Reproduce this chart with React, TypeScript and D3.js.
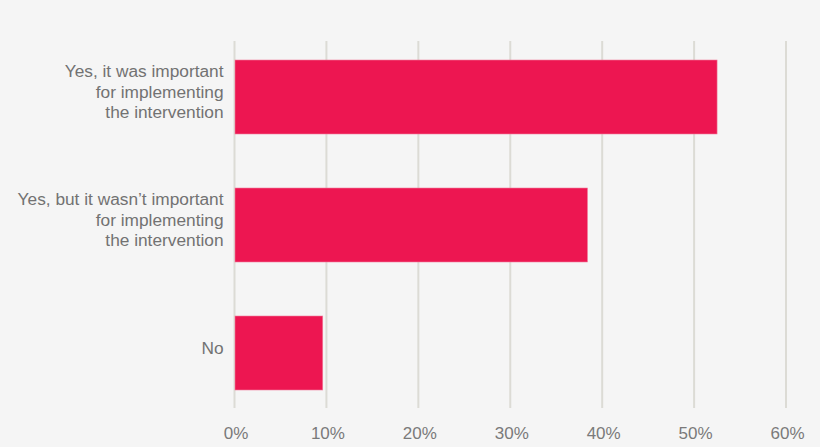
import { useEffect, useRef } from "react";
import * as d3 from "d3";

const categories = [
  ["Yes, it was important", "for implementing", "the intervention"],
  ["Yes, but it wasn\u2019t important", "for implementing", "the intervention"],
  ["No"],
];
const values = [52.5, 38.4, 9.6];
const ticks = [0, 10, 20, 30, 40, 50, 60];

const width = 820;
const height = 447;
const font = "'Liberation Sans', Arial, Helvetica, sans-serif";

export default function App() {
  const svgRef = useRef<SVGSVGElement | null>(null);

  useEffect(() => {
    document.body.style.margin = "0";
    const svg = d3.select(svgRef.current);
    svg.selectAll("*").remove();

    const x = d3.scaleLinear().domain([0, 60]).range([234.5, 786]);
    const y = d3
      .scaleBand<number>()
      .domain(d3.range(values.length))
      .range([33, 417])
      .paddingInner(0.422)
      .paddingOuter(0.211);

    svg.append("rect").attr("width", width).attr("height", height).attr("fill", "#f5f5f5");

    // gridlines
    svg.selectAll("line.grid")
      .data(ticks)
      .join("line")
      .attr("class", "grid")
      .attr("x1", d => x(d))
      .attr("x2", d => x(d))
      .attr("y1", 41)
      .attr("y2", 408)
      .attr("stroke", "#dcdbd5")
      .attr("stroke-width", 2);

    // bars
    svg.selectAll("rect.bar")
      .data(values)
      .join("rect")
      .attr("class", "bar")
      .attr("x", x(0) + 0.5)
      .attr("y", (_, i) => y(i)!)
      .attr("width", d => x(d) - x(0) - 0.5)
      .attr("height", y.bandwidth())
      .attr("fill", "#ed1651")
      .attr("stroke", "#f27a9a")
      .attr("stroke-width", 0.6);

    // tick labels
    svg.selectAll("text.tick")
      .data(ticks)
      .join("text")
      .attr("class", "tick")
      .attr("x", d => x(d) + 1.5)
      .attr("y", 438.5)
      .attr("text-anchor", "middle")
      .attr("font-family", font)
      .attr("font-size", 17)
      .attr("fill", "#7a7a7a")
      .text(d => d + "%");

    // category labels
    const lbl = svg.selectAll("text.cat")
      .data(categories)
      .join("text")
      .attr("class", "cat")
      .attr("text-anchor", "end")
      .attr("font-family", font)
      .attr("font-size", 17.3)
      .attr("fill", "#727272");

    lbl.each(function (lines, i) {
      const cy = y(i)! + y.bandwidth() / 2;
      d3.select(this)
        .selectAll("tspan")
        .data(lines)
        .join("tspan")
        .attr("x", 223.5)
        .attr("y", (_, j) => cy + (j - (lines.length - 1) / 2) * 20.5 + 0.5)
        .text(d => d);
    });
  }, []);

  return <svg ref={svgRef} width={width} height={height} style={{ display: "block" }} />;
}
